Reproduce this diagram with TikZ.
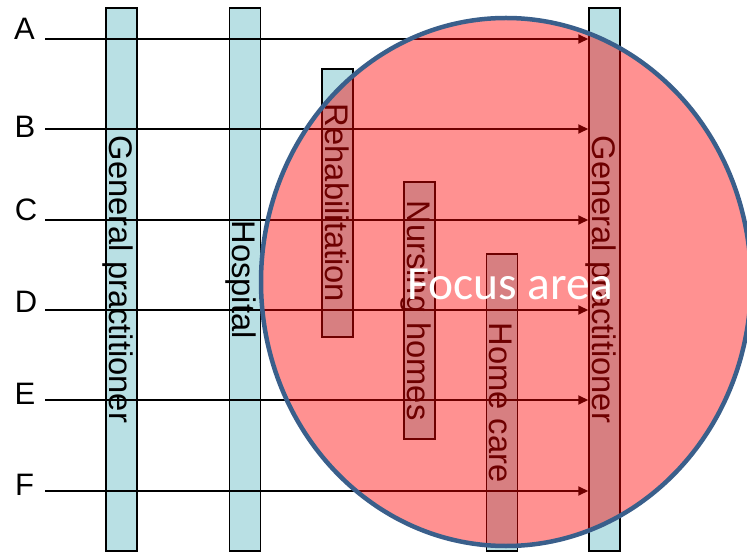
\documentclass[tikz,border=0pt]{standalone}
\usepackage{fontspec}
\setmainfont{Liberation Sans}
\newfontfamily\calib{Carlito}
\usetikzlibrary{arrows.meta}
\definecolor{barblue}{RGB}{185,224,228}
\definecolor{ringblue}{RGB}{58,95,139}
\begin{document}
\begin{tikzpicture}[x=1pt,y=-1pt,
  bar/.style={draw=black, line width=1.5pt, fill=barblue, inner sep=0pt, minimum width=31pt},
  bartext/.style={rotate=-90, anchor=base, font=\fontsize{32.7}{36}\selectfont, inner sep=0pt},
  lab/.style={font=\fontsize{31}{34}\selectfont, inner sep=0pt},
  flow/.style={line width=2pt, -{Triangle[length=10pt,width=9pt]}},
  focusring/.style={draw=ringblue, line width=4.5pt, fill=red, fill opacity=0.43}]
\useasboundingbox (0,0) rectangle (747,553);
% bars
\node[bar, minimum height=543pt] (gp1) at (121.5,279.5) {};
\node[bar, minimum height=543pt] (hosp) at (245,279.5) {};
\node[bar, minimum height=268pt] (rehab) at (337.5,203) {};
\node[bar, minimum height=257pt] (nurs) at (419.5,310.5) {};
\node[bar, minimum height=297pt] (home) at (502,402.5) {};
\node[bar, minimum height=543pt] (gp2) at (604.5,279.5) {};
% bar texts
\node[bartext] (tgp1) at ([xshift=4pt]gp1.west) {General practitioner};
\node[bartext] (thosp) at ([xshift=4pt]hosp.west) {Hospital};
\node[bartext] (trehab) at ([xshift=4pt]rehab.west) {Rehabilitation};
\node[bartext] (tnurs) at ([xshift=4pt]nurs.west) {Nursing homes};
\node[bartext] (thome) at ([xshift=4pt]home.west) {Home care};
\node[bartext] (tgp2) at ([xshift=4pt]gp2.west) {General practitioner};
% row labels
\node[lab] (lA) at (24.5,29) {A};
\node[lab] (lB) at (25,126.5) {B};
\node[lab] (lC) at (26,210) {C};
\node[lab] (lD) at (26,301.5) {D};
\node[lab] (lE) at (25,394) {E};
\node[lab] (lF) at (24.5,485) {F};
% flows
\coordinate (sA) at (45,39);
\coordinate (sB) at (45,129);
\coordinate (sC) at (45,220);
\coordinate (sD) at (45,310);
\coordinate (sE) at (45,400);
\coordinate (sF) at (45,491);
\foreach \r in {A,B,C,D,E,F}{
  \draw[flow] (s\r) -- (s\r -| gp2.west);
}
% focus area
\draw[focusring] (506,282) ellipse [x radius=245, y radius=264];
\node[text=white, font=\calib\fontsize{47.5}{52}\selectfont, inner sep=0pt] (focus) at (510,284) {Focus area};
\end{tikzpicture}
\end{document}
